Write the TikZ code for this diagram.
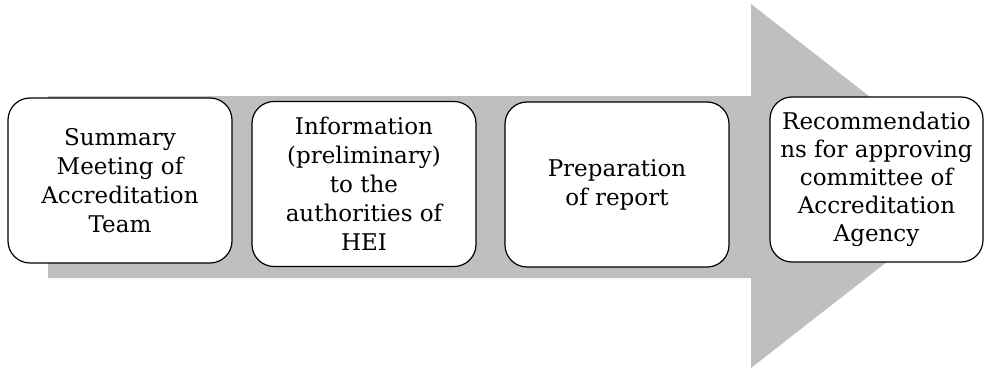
\documentclass[tikz,border=0pt]{standalone}
\usepackage{fontspec}
\setmainfont{DejaVu Serif}
\usepackage{tikz}

\begin{document}
\begin{tikzpicture}[x=1pt,y=-1pt,every node/.style={draw=black,line width=1.2pt,fill=white,rounded corners=22pt,align=center,inner sep=0pt,minimum width=224pt,minimum height=165pt,font=\fontsize{23}{29}\selectfont}]
\useasboundingbox (0,0) rectangle (984,369);
\fill[gray!50] (48,96) -- (751,96) -- (751,4) -- (984,186) -- (751,368) -- (751,278) -- (48,278) -- cycle;
\node (summary) at (120,180.5) {Summary\\Meeting of\\Accreditation\\Team};
\node (info) at (364,184) {Information\\(preliminary)\\to the\\authorities of\\HEI};
\node (report) at (617,184.5) {Preparation\\of report};
\node[minimum width=213pt,font=\fontsize{23}{28}\selectfont] (recom) at (876.5,179.5) {Recommendatio\\ns for approving\\committee of\\Accreditation\\Agency};
\end{tikzpicture}
\end{document}
